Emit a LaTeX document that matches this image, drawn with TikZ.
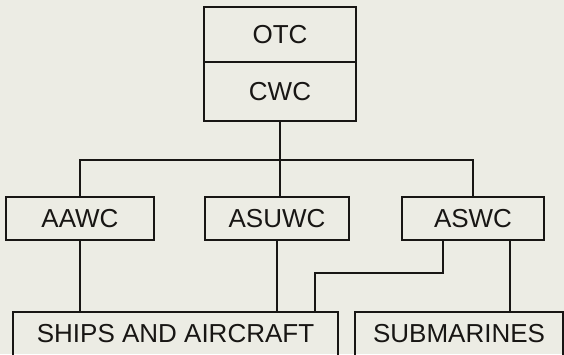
\documentclass[tikz,border=0pt]{standalone}
\usepackage{fontspec}
\setmainfont{Liberation Sans}
\usetikzlibrary{positioning,calc}
\definecolor{CmdInk}{RGB}{24,22,20}
\definecolor{CmdPaper}{RGB}{236,236,228}
\tikzset{
  cmd/box/.style={
    draw=CmdInk,
    line width=1.6pt,
    fill=none,
    align=center,
    text=CmdInk,
    inner sep=0pt,
    minimum height=43pt,
    font=\fontsize{26}{29}\selectfont
  },
  cmd/link/.style={draw=CmdInk, line width=1.6pt}
}
\begin{document}
\begin{tikzpicture}[x=1pt,y=-1pt]
  \useasboundingbox (0,0) rectangle (564,354);
  \clip (0,0) rectangle (564,354);
  \fill[CmdPaper] (0,0) rectangle (564,354);

  % command boxes
  \node[cmd/box,minimum width=152pt,minimum height=55pt] (otc) at (280,34.5) {OTC};
  \node[cmd/box,minimum width=152pt,minimum height=59pt] (cwc) at (280,91.5) {CWC};
  \node[cmd/box,minimum width=148pt] (aawc) at (80,218.5) {AAWC};
  \node[cmd/box,minimum width=144pt] (asuwc) at (277,218.5) {ASUWC};
  \node[cmd/box,minimum width=142pt] (aswc) at (473,218.5) {ASWC};
  \node[cmd/box,minimum width=325pt,minimum height=44pt] (ships) at (175.5,334) {SHIPS AND AIRCRAFT};
  \node[cmd/box,minimum width=208pt,minimum height=44pt] (subs) at (459,334) {SUBMARINES};

  % lines
  \coordinate (bus) at ($(cwc.south)+(0,38)$);
  \draw[cmd/link] (cwc.south) -- (cwc.south |- asuwc.north);
  \draw[cmd/link] (aawc.north) |- (bus) -| (aswc.north);
  \draw[cmd/link] (aawc.south) -- (aawc.south |- ships.north);
  \draw[cmd/link] (asuwc.south) -- (asuwc.south |- ships.north);
  \coordinate (jog) at (315,273);
  \draw[cmd/link] ($(aswc.south)+(-30,0)$) |- (jog) -- (jog |- ships.north);
  \draw[cmd/link] ($(aswc.south)+(37,0)$) coordinate (sr) -- (sr |- subs.north);
\end{tikzpicture}
\end{document}
